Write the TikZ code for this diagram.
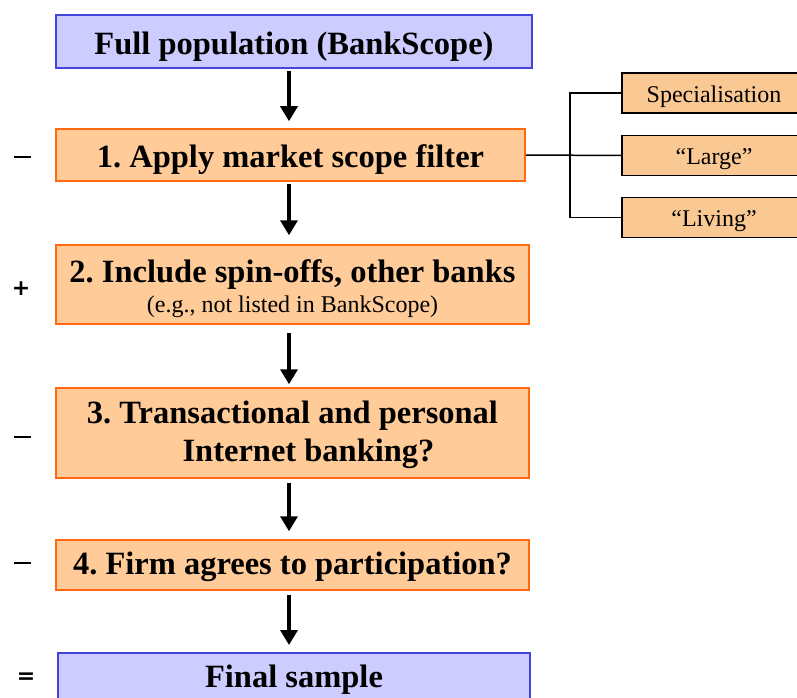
\documentclass[tikz,border=0pt]{standalone}
\usepackage{fontspec}
\setmainfont{Liberation Serif}
\newfontfamily\signfont{DejaVu Sans}
\usetikzlibrary{arrows.meta,calc}
\definecolor{bluefill}{HTML}{CCCCFF}
\definecolor{blueline}{HTML}{4444DD}
\definecolor{orfill}{HTML}{FFCC99}
\definecolor{orline}{HTML}{FF6A10}
\definecolor{sidefill}{HTML}{FAC892}
\frenchspacing
\newcommand{\dropby}[2]{\raisebox{-#1}[\height][\depth]{#2}}
\begin{document}
\begin{tikzpicture}[x=1pt,y=-1pt,
  bluebox/.style={draw=blueline,fill=bluefill,line width=1.5pt,minimum width=#1,inner sep=0pt,font=\fontsize{32.5}{38}\selectfont\bfseries},
  orbox/.style={draw=orline,fill=orfill,line width=1.5pt,minimum width=#1,inner sep=0pt,font=\fontsize{32.5}{38}\selectfont\bfseries},
  sidebox/.style={draw=black,fill=sidefill,line width=1.5pt,minimum width=208pt,minimum height=40pt,inner sep=0pt,font=\fontsize{24}{28}\selectfont},
  flow/.style={line width=3.5pt,-{Triangle[width=17pt,length=15pt]}},
  brk/.style={line width=1.5pt},
  sign/.style={font=\signfont\fontsize{22}{26}\selectfont\bfseries,inner sep=0pt}]
\useasboundingbox (0,0) rectangle (797,698);
\node[bluebox=476pt,minimum height=53pt] (b0) at (294,41.5) {\dropby{5pt}{Full population (BankScope)}};
\node[orbox=469pt,minimum height=52pt] (b1) at (290.5,155) {\dropby{5pt}{1. Apply market scope filter}};
\node[orbox=473pt,minimum height=79pt] (b2) at (292.5,284.5) {\dropby{5pt}{\begin{tabular}{@{}c@{}}2. Include spin-offs, other banks\\[-8pt]{\fontsize{24}{28}\selectfont\mdseries(e.g., not listed in BankScope)}\end{tabular}}};
\node[orbox=473pt,minimum height=90pt] (b3) at (292.5,433) {\dropby{2pt}{\begin{tabular}{@{}c@{}}3. Transactional and personal\\\hspace*{32pt}Internet banking?\end{tabular}}};
\node[orbox=473pt,minimum height=50pt] (b4) at (292.5,565) {\dropby{2pt}{4. Firm agrees to participation?}};
\node[bluebox=472pt,minimum height=53pt,anchor=north] (b5) at (294,652) {Final sample};
\node[sidebox] (s1) at (726,93) {\dropby{4pt}{\hspace*{-24pt}Specialisation}};
\node[sidebox] (s2) at (726,155.5) {\dropby{4pt}{\hspace*{-24pt}``Large''}};
\node[sidebox] (s3) at (726,217.5) {\dropby{4pt}{\hspace*{-24pt}``Living''}};
\coordinate (ax) at (289,0);
\coordinate (bx) at (570,0);
\draw[flow,shorten <=2pt,shorten >=7pt] (b0.south -| ax) -- (b1.north -| ax);
\draw[flow,shorten <=2pt,shorten >=9pt] (b1.south -| ax) -- (b2.north -| ax);
\draw[flow,shorten <=8pt,shorten >=3pt] (b2.south -| ax) -- (b3.north -| ax);
\draw[flow,shorten <=4pt,shorten >=8pt] (b3.south -| ax) -- (b4.north -| ax);
\draw[flow,shorten <=4pt,shorten >=7pt] (b4.south -| ax) -- (b5.north -| ax);
\draw[brk] (b1.east) -- (s2.west);
\draw[brk] (s1.west) -- (s1.west -| bx) -- (s3.west -| bx) -- (s3.west);
\node[sign] (m1) at (22,157) {\rule{17pt}{1.5pt}};
\node[sign] (p2) at (21,289) {+};
\node[sign] (m3) at (22,437) {\rule{17pt}{1.5pt}};
\node[sign] (m4) at (22,563) {\rule{17pt}{1.5pt}};
\node[sign] (e5) at (26,678) {=};
\end{tikzpicture}
\end{document}
